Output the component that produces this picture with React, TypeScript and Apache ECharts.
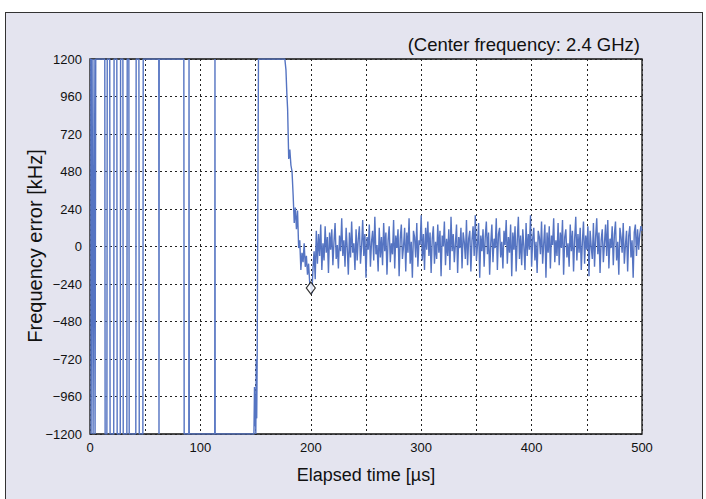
import React, { useEffect, useRef } from "react";
import * as echarts from "echarts";

// Saturated wrap-around bursts before lock (µs, kHz)
const burstTimes = [
  0, 0.7, 1.0, 1.6, 1.9, 2.5, 2.8, 3.4, 3.7, 4.3, 4.6, 4.9, 5.2,
  13.4, 13.7, 15.3, 15.6, 17.9, 18.2, 21.5, 21.8, 24.3, 24.6, 27.4, 27.7, 29.8, 30.1,
  33.4, 33.7, 35.2, 35.5, 41.5, 41.8, 44.3, 44.6, 47.9, 48.2, 62.3, 62.5, 62.7,
  85.0, 85.3, 89.5, 89.7, 89.9, 113.0, 113.2, 113.4,
  148.5, 149.0, 149.4, 149.8, 150.2, 150.6, 151.0, 151.4, 152.6, 176.5,
];
const burstValues = [
  1200, 1200, -1200, -1200, 1200, 1200, -1200, -1200, 1200, 1200, -1200, -1200, 1200,
  1200, -1200, -1200, 1200, 1200, -1200, -1200, 1200, 1200, -1200, -1200, 1200, 1200, -1200,
  -1200, 1200, 1200, -1200, -1200, 1200, 1200, -1200, -1200, 1200, 1200, -1200, 1200,
  1200, -1200, -1200, 1200, -1200, -1200, 1200, -1200,
  -1200, -900, -1150, -950, -1200, -720, -1100, -760, 1200, 1200,
];

// Settling segment
const settleTimes = [
  177.5, 178.3, 179, 180, 181, 182, 183, 184, 185, 186, 187, 188, 189, 190,
  191, 192, 193, 194, 195, 196, 197, 198, 199, 200, 201, 202, 203, 204,
];
const settleValues = [
  1130, 980, 880, 560, 620, 520, 480, 330, 150, 250, 110, 230, -10, 40,
  -150, -40, -100, 20, -130, -60, -180, -110, -230, -250, -300, -140, -30, -210,
];

// Locked region, one sample per µs starting at noiseStart
const noiseStart = 205;
const noiseValues = [
  100, -110, 80, -60, 140, -150, 20, -90, 130, -40,
  60, -170, 90, -20, 110, -120, 30, 150, -80, 10,
  -140, 70, -30, 180, -60, 40, -130, 120, -10, -180,
  90, -70, 160, -40, 20, -150, 110, -90, 50, 130,
  -110, 0, 170, -60, 80, -200, 60, -20, 140, -130,
  30, 100, -90, 190, -50, 10, -160, 120, -70, 60,
  -120, 150, -30, 90, -180, 40, 130, -100, 20, -50,
  170, -140, 70, -10, 110, -190, 50, 140, -80, 0,
  120, -160, 90, -40, 180, -110, 30, -200, 100, 60,
  -70, 150, -130, 40, 10, 200, -90, 80, -150, 120,
  -20, 160, -60, 90, -170, 50, 130, -110, 30, -80,
  140, -40, 100, -190, 70, 0, 160, -120, 50, -60,
  110, -150, 190, -30, 80, -100, 20, 140, -170, 60,
  -10, 120, -140, 90, 30, -80, 170, -120, 50, 100,
  -160, 40, 130, -60, 200, -90, 10, 150, -200, 70,
  -30, 110, -130, 60, 160, -50, 90, -180, 20, 140,
  -100, 50, -10, 180, -150, 80, 120, -70, 30, -140,
  100, 10, 170, -110, 60, -40, 140, -190, 90, -20,
  130, -160, 40, 190, -80, 70, -120, 110, 0, -150,
  150, -60, 80, -20, 200, -130, 50, 120, -90, 30,
  -170, 100, 60, -50, 160, -110, 20, 140, -200, 90,
  -40, 130, -140, 70, 10, 180, -100, 40, -60, 150,
  -120, 90, -10, 170, -180, 60, 110, -70, 20, -130,
  140, -30, 100, -160, 50, 190, -90, 80, -40, 120,
  -150, 30, 160, -110, 70, -20, 130, -190, 100, 0,
  -80, 150, -130, 60, 180, -50, 90, -170, 40, 110,
  -100, 20, 140, -60, 170, -140, 50, -10, 130, -120,
  80, 160, -90, 30, -180, 120, 60, -40, 150, -110,
  10, 100, -160, 70, 130, -70, 40, -200, 90, 140,
  -60, 110, -20, 80, 130, 100,
];

const markerPoint = [200, -265];

const xTicks = [0, 100, 200, 300, 400, 500];
const yTicks = [-1200, -960, -720, -480, -240, 0, 240, 480, 720, 960, 1200];

const titleNote = "(Center frequency: 2.4 GHz)";
const xName = "Elapsed time [µs]";
const yName = "Frequency error [kHz]";

const FONT = "'Liberation Sans', Arial, sans-serif";

export default function App() {
  const ref = useRef<HTMLDivElement>(null);

  useEffect(() => {
    if (!ref.current) return;
    const chart = echarts.init(ref.current, undefined, { renderer: "svg" });

    const data: number[][] = [];
    burstTimes.forEach((t, i) => data.push([t, burstValues[i]]));
    settleTimes.forEach((t, i) => data.push([t, settleValues[i]]));
    noiseValues.forEach((v, i) => data.push([noiseStart + i, v]));

    chart.setOption({
      animation: false,
      textStyle: { fontFamily: FONT },
      grid: {
        left: 90,
        top: 59,
        width: 552,
        height: 375,
        show: true,
        backgroundColor: "#ffffff",
        borderColor: "#111",
        borderWidth: 1.3,
      },
      xAxis: {
        type: "value",
        min: 0,
        max: 500,
        interval: 50,
        name: xName,
        nameLocation: "middle",
        nameGap: 32,
        nameTextStyle: { fontSize: 18, color: "#111", fontFamily: FONT },
        axisLine: { show: false },
        axisTick: { show: false },
        axisLabel: {
          fontSize: 13,
          color: "#111",
          margin: 7,
          fontFamily: FONT,
          formatter: (v: number) => (xTicks.includes(v) ? String(v) : ""),
        },
        splitLine: {
          show: true,
          lineStyle: { color: "#222", width: 1, type: [2, 3] },
        },
      },
      yAxis: {
        type: "value",
        min: -1200,
        max: 1200,
        interval: 240,
        axisLine: { show: false },
        axisTick: { show: false },
        axisLabel: {
          fontSize: 13,
          color: "#111",
          margin: 8,
          fontFamily: FONT,
          formatter: (v: number) =>
            yTicks.includes(v) ? String(v).replace("-", "\u2212") : "",
        },
        splitLine: {
          show: true,
          lineStyle: { color: "#222", width: 1, type: [2, 3] },
        },
      },
      graphic: [
        {
          type: "text",
          right: 66,
          top: 35,
          style: {
            text: titleNote,
            fontSize: 18.5,
            fill: "#111",
            fontFamily: FONT,
          },
        },
        {
          type: "text",
          x: 35,
          y: 246,
          rotation: Math.PI / 2,
          style: {
            text: yName,
            fontSize: 20,
            fill: "#111",
            fontFamily: FONT,
            align: "center",
            verticalAlign: "middle",
          },
        },
      ],
      series: [
        {
          type: "line",
          data,
          showSymbol: false,
          symbol: "none",
          clip: true,
          lineStyle: { color: "#5574c2", width: 1.4 },
          z: 2,
        },
        {
          type: "scatter",
          data: [markerPoint],
          symbol: "diamond",
          symbolSize: [9, 12],
          itemStyle: { color: "#ffffff", borderColor: "#000", borderWidth: 1.2 },
          z: 5,
        },
      ],
    });

    return () => chart.dispose();
  }, []);

  return (
    <div
      style={{
        position: "fixed",
        left: 0,
        top: 0,
        width: 706,
        height: 499,
        background: "#ffffff",
        overflow: "hidden",
      }}
    >
      <div
        style={{
          position: "absolute",
          left: 5,
          top: 12,
          width: 698,
          height: 495,
          boxSizing: "border-box",
          border: "1px solid #333",
          background: "#e4e4ef",
        }}
      />
      <div
        ref={ref}
        style={{ position: "absolute", left: 0, top: 0, width: 706, height: 499 }}
      />
    </div>
  );
}
